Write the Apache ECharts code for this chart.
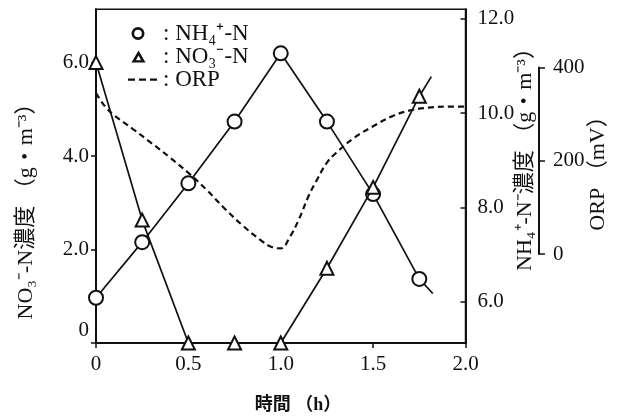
<!DOCTYPE html>
<html>
<head>
<meta charset="utf-8">
<script src="https://cdn.jsdelivr.net/npm/echarts@6/dist/echarts.min.js"></script>
<style>
html,body{margin:0;padding:0;background:#fff;}
#chart{width:627px;height:417px;}
</style>
</head>
<body>
<div id="chart"></div>
<script>
// ---- data ----
const time = [0, 0.25, 0.5, 0.75, 1.0, 1.25, 1.5, 1.75];
const nh4 = [6.08, 7.26, 8.51, 9.82, 11.27, 9.82, 8.28, 6.48];
const nh4Tail = [1.823, 6.17];
const no3 = [6.0, 2.63, 0, 0, 0, 1.60, 3.33, 5.28];
const no3Tail = [1.815, 5.70];
const orpTime = [0, 0.05, 0.1, 0.2, 0.3, 0.4, 0.5, 0.6, 0.7, 0.8, 0.9, 0.95, 1.0, 1.05, 1.1, 1.15, 1.2, 1.25, 1.3, 1.4, 1.5, 1.6, 1.7, 1.8, 1.9, 2.0];
const orpValues = [345, 316, 297, 268, 238, 207, 174, 137, 96, 59, 27, 15, 12, 37, 76, 124, 162, 196, 217, 250, 274, 295, 308, 314, 316, 316];
const xTicks = [0, 0.5, 1.0, 1.5, 2.0];
const no3Ticks = [0, 2, 4, 6];
const nh4Ticks = [6, 8, 10, 12];
const orpTicks = [0, 200, 400];
const seriesNames = ['NH\u2084\u207A-N', 'NO\u2083\u207B-N', 'ORP'];
const xTitle = '時間 （h）';
const no3Title = 'NO\u2083\u207B-N濃度 （g・m\u207B\u00B3）';
const nh4Title = 'NH\u2084\u207A-N\u207B濃度 （g・m\u207B\u00B3）';
const orpTitle = 'ORP （mV）';

const FONT = "'Liberation Serif','Noto Sans CJK JP',serif";
const INK = '#111';

const chart = echarts.init(document.getElementById('chart'), null, {renderer: 'canvas'});

const nh4Data = time.map((t, i) => [t, nh4[i]]);
nh4Data.push({value: nh4Tail, symbol: 'none'});
const no3Data = time.map((t, i) => [t, no3[i]]);
no3Data.push({value: no3Tail, symbol: 'none'});
const orpData = orpTime.map((t, i) => [t, orpValues[i]]);

const labelStyle = {color: INK, fontFamily: FONT, fontSize: 21};
// legend icons drawn in a 30x13 box (bounds fixed by zero-length corner sub-paths)
const BOX = ' M0,0 L0,0 Z M30,13 L30,13 Z';
const circleIcon = 'path://M3.5,6.5 A6.5,6.5 0 1 0 16.5,6.5 A6.5,6.5 0 1 0 3.5,6.5 Z M6.2,6.5 A3.8,3.8 0 1 1 13.8,6.5 A3.8,3.8 0 1 1 6.2,6.5 Z' + BOX;
const triIcon = 'path://M10.5,0.5 L17.5,12.5 L3.5,12.5 Z M10.5,5.6 L7.9,10.2 L13.1,10.2 Z' + BOX;
const dashIcon = 'path://M0,5.5 L7,5.5 L7,7.7 L0,7.7 Z M11,5.5 L18,5.5 L18,7.7 L11,7.7 Z M22,5.5 L29,5.5 L29,7.7 L22,7.7 Z' + BOX;

chart.setOption({
  backgroundColor: '#fff',
  animation: false,
  grid: [
    {left: 96, right: 161.5, top: 9.3, bottom: 74, show: true, borderColor: INK, borderWidth: 1.5, backgroundColor: 'transparent'},
    {left: 539, width: 1, top: 67.5, height: 186.5, show: false}
  ],
  legend: {
    orient: 'vertical',
    left: 123,
    top: 17,
    itemWidth: 30,
    itemHeight: 13,
    itemGap: 0,
    selectedMode: false,
    textStyle: {color: INK, fontFamily: FONT, fontSize: 23, lineHeight: 21},
    formatter: n => ': ' + n,
    data: [
      {name: seriesNames[0], icon: circleIcon, itemStyle: {color: INK, borderWidth: 0}},
      {name: seriesNames[1], icon: triIcon, itemStyle: {color: INK, borderWidth: 0}},
      {name: seriesNames[2], icon: dashIcon, itemStyle: {color: INK, borderWidth: 0}}
    ]
  },
  xAxis: [
    {
      type: 'value', gridIndex: 0, min: xTicks[0], max: xTicks[xTicks.length - 1], interval: 0.5,
      axisLine: {show: true, lineStyle: {color: INK, width: 2}},
      axisTick: {show: true, length: 5, lineStyle: {color: INK, width: 1.5}},
      splitLine: {show: false},
      axisLabel: Object.assign({margin: 11, formatter: v => v === 0 ? '0' : v.toFixed(1)}, labelStyle)
    },
    {type: 'value', gridIndex: 1, min: 0, max: 1, show: false}
  ],
  yAxis: [
    {
      type: 'value', gridIndex: 0, position: 'left', min: 0, max: 7.14, interval: 2,
      axisLine: {show: true, lineStyle: {color: INK, width: 2}},
      axisTick: {show: true, length: 5, lineStyle: {color: INK, width: 1.5}},
      splitLine: {show: false},
      axisLabel: Object.assign({
        margin: 7,
        showMaxLabel: false,
        formatter: v => v === 0 ? '{z|0}' : v.toFixed(1),
        rich: {z: {fontFamily: FONT, fontSize: 21, color: INK, padding: [0, 0, 26, 0]}}
      }, labelStyle)
    },
    {
      type: 'value', gridIndex: 0, position: 'right', min: 5.119, max: 12.204,
      axisLine: {show: true, lineStyle: {color: INK, width: 2}},
      axisTick: {show: true, inside: true, length: 5, customValues: nh4Ticks, lineStyle: {color: INK, width: 1.5}},
      splitLine: {show: false},
      axisLabel: Object.assign({margin: 12, customValues: nh4Ticks, formatter: v => v.toFixed(1)}, labelStyle)
    },
    {
      type: 'value', gridIndex: 0, position: 'right', min: -190.9, max: 524.8, show: false
    },
    {
      type: 'value', gridIndex: 1, position: 'right', min: orpTicks[0], max: orpTicks[orpTicks.length - 1], interval: 200,
      axisLine: {show: true, lineStyle: {color: INK, width: 2}},
      axisTick: {show: true, length: 6, lineStyle: {color: INK, width: 1.5}},
      splitLine: {show: false},
      axisLabel: Object.assign({margin: 13}, labelStyle)
    }
  ],
  series: [
    {
      name: seriesNames[0], type: 'line', xAxisIndex: 0, yAxisIndex: 1,
      data: nh4Data, symbol: 'emptyCircle', symbolSize: 14, showAllSymbol: true,
      lineStyle: {color: INK, width: 1.7},
      itemStyle: {color: INK, borderColor: INK, borderWidth: 2},
      z: 3
    },
    {
      name: seriesNames[1], type: 'line', xAxisIndex: 0, yAxisIndex: 0,
      data: no3Data, symbol: 'emptyTriangle', symbolSize: 13, showAllSymbol: true,
      lineStyle: {color: INK, width: 1.7},
      itemStyle: {color: INK, borderColor: INK, borderWidth: 2.2},
      clip: false,
      z: 4
    },
    {
      name: seriesNames[2], type: 'line', xAxisIndex: 0, yAxisIndex: 2,
      data: orpData, symbol: 'none', smooth: 0.4,
      lineStyle: {color: INK, width: 2.2, type: [6, 4]},
      itemStyle: {color: INK},
      z: 2
    }
  ],
  graphic: [
    {type: 'text', x: 26, y: 206, rotation: Math.PI / 2,
      style: {text: no3Title, font: "22px " + FONT, fill: INK, align: 'center', verticalAlign: 'middle'}},
    {type: 'text', x: 525, y: 154, rotation: Math.PI / 2,
      style: {text: nh4Title, font: "22px " + FONT, fill: INK, align: 'center', verticalAlign: 'middle'}},
    {type: 'text', x: 598, y: 168, rotation: Math.PI / 2,
      style: {text: orpTitle, font: "22px " + FONT, fill: INK, align: 'center', verticalAlign: 'middle'}},
    {type: 'text', x: 298, y: 405,
      style: {text: xTitle, font: "bold 18px " + FONT, fill: INK, align: 'center', verticalAlign: 'middle'}}
  ]
});
</script>
</body>
</html>
